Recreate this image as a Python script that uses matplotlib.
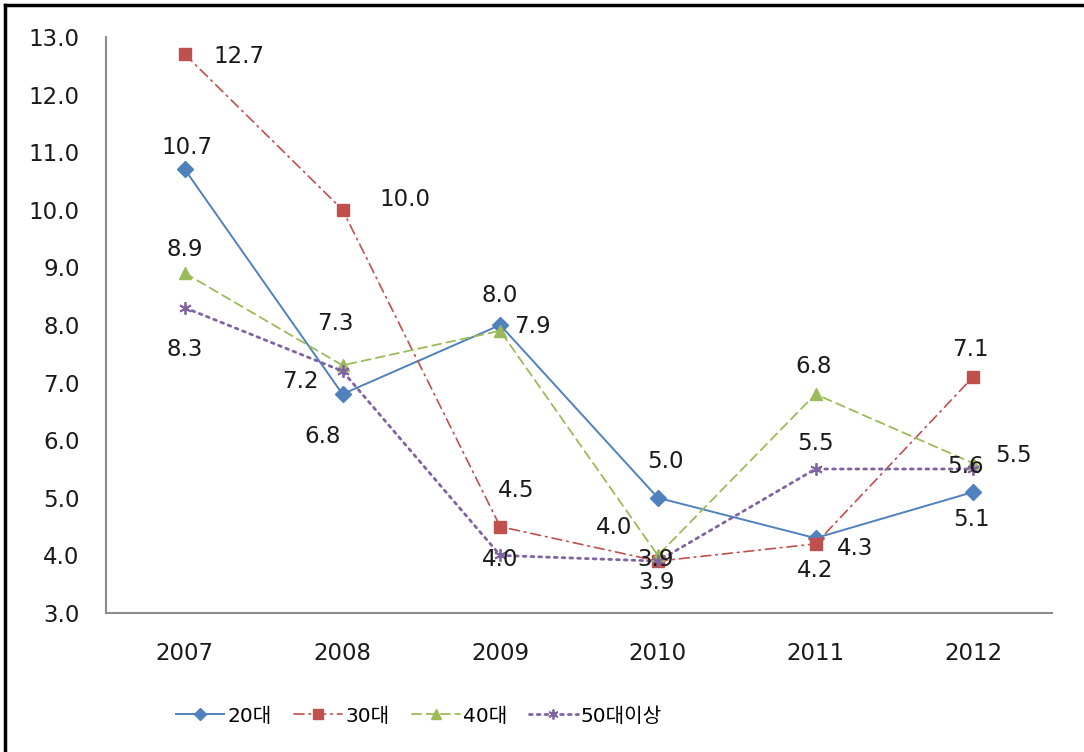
import numpy as np
import matplotlib.pyplot as plt
from matplotlib.lines import Line2D

plt.rcParams['font.family'] = ['DejaVu Sans', 'Noto Sans CJK KR']

# DATA
years = ['2007', '2008', '2009', '2010', '2011', '2012']
age20 = [10.7, 6.8, 8.0, 5.0, 4.3, 5.1]
age30 = [12.7, 10.0, 4.5, 3.9, 4.2, 7.1]
age40 = [8.9, 7.3, 7.9, 4.0, 6.8, 5.6]
age50 = [8.3, 7.2, 4.0, 3.9, 5.5, 5.5]
names = ['20대', '30대', '40대', '50대이상']

# label offsets in pixels (dx, dy), per series
offs20 = [(2, 22), (-20, -42), (0, 30), (8, 36), (40, -10), (-2, -27)]
offs30 = [(54, -2), (62, 10), (16, 36), (-1, -21), (0, -27), (-3, 27)]
offs40 = [(0, 24), (-7, 42), (32, 4), (-44, 28), (-2, 28), (-8, -3)]
offs50 = [(0, -42), (-42, -10), (0, -4), (-2, 2), (0, 26), (40, 14)]

colors = ['#4F81BD', '#C0504D', '#9BBB59', '#8064A2']

fig = plt.figure(figsize=(10.84, 7.52), dpi=100)
ax = fig.add_axes([106 / 1084, 1 - 613 / 752, (1052 - 106) / 1084, (613 - 37) / 752])

x = np.arange(len(years))
series = [age20, age30, age40, age50]
offsets = [offs20, offs30, offs40, offs50]
styles = [
    dict(linestyle='-', linewidth=1.4, marker='D', markersize=8),
    dict(linestyle=(0, (6, 3, 1, 3)), linewidth=1.2, marker='s', markersize=9),
    dict(linestyle=(0, (5, 3)), linewidth=1.3, marker='^', markersize=9),
    dict(linestyle=(0, (1, 1.8)), linewidth=2.0, marker=(6, 2, 0), markersize=9,
         markeredgewidth=1.3),
]

handles = []
for vals, c, st, offs, nm in zip(series, colors, styles, offsets, names):
    ln, = ax.plot(x, vals, color=c, markerfacecolor=c, markeredgecolor=c,
                  dash_capstyle='round', label=nm, **st)
    handles.append(ln)
    for xi, v, (dx, dy) in zip(x, vals, offs):
        ax.annotate(f'{v:.1f}', (xi, v), xytext=(dx, dy), textcoords='offset pixels',
                    ha='center', va='center', fontsize=16.5, color='#1a1a1a')

ax.set_xlim(-0.5, len(years) - 0.5)
ax.set_ylim(3.0, 13.0)
ax.set_yticks(np.arange(3, 14, 1))
ax.set_yticklabels([f'{t:.1f}' for t in np.arange(3, 14, 1)])
ax.set_xticks(x)
ax.set_xticklabels(years)
ax.tick_params(axis='both', length=0, labelsize=16.5, colors='#1a1a1a')
ax.tick_params(axis='y', pad=19)
ax.tick_params(axis='x', pad=21)
for s in ['top', 'right']:
    ax.spines[s].set_visible(False)
for s in ['left', 'bottom']:
    ax.spines[s].set_color('#8c8c8c')
    ax.spines[s].set_linewidth(1.5)

fig.legend(handles=handles, loc='center left', bbox_to_anchor=(158 / 1084, 1 - 716 / 752),
           ncol=4, frameon=False, fontsize=14.5, handlelength=2.4, markerscale=0.8,
           handletextpad=0.15, columnspacing=1.1)

# outer frame
fig.add_artist(Line2D([0.005, 0.005], [0, 0.993], transform=fig.transFigure,
                      color='black', linewidth=2.5))
fig.add_artist(Line2D([0.005, 1.0], [0.993, 0.993], transform=fig.transFigure,
                      color='black', linewidth=2.5))

fig.savefig('out.png', dpi=100)
